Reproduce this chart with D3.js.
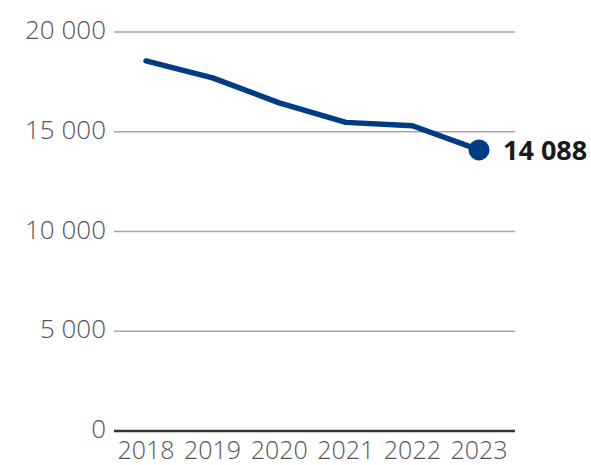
<!DOCTYPE html>
<html>
<head>
<meta charset="utf-8">
<script src="https://cdn.jsdelivr.net/npm/d3@7"></script>
<style>
  html, body { margin: 0; padding: 0; background: #fff; }
  svg { display: block; }
  text { font-family: "Open Sans", sans-serif; }
</style>
</head>
<body>
<svg id="chart" width="591" height="465"></svg>
<script>
// Yearly totals
const years = ["2018", "2019", "2020", "2021", "2022", "2023"];
const values = [18550, 17700, 16450, 15470, 15300, 14088];
const yTicks = [0, 5000, 10000, 15000, 20000];

const width = 591, height = 465;
const margin = { top: 32, right: 76, bottom: 34, left: 114 };

const svg = d3.select("#chart");

const x = d3.scalePoint()
  .domain(years)
  .range([146, 479]);

const y = d3.scaleLinear()
  .domain([0, 20000])
  .range([431, 32]);

// Thousands separated by a space
const fmt = v => d3.format(",")(v).replace(/,/g, " ");

// Gridlines
svg.append("g")
  .selectAll("line")
  .data(yTicks.filter(d => d !== 0))
  .join("line")
  .attr("x1", margin.left)
  .attr("x2", width - margin.right)
  .attr("y1", d => y(d))
  .attr("y2", d => y(d))
  .attr("stroke", "#a6a6a6")
  .attr("stroke-width", 1.5);

// Baseline
svg.append("line")
  .attr("x1", margin.left)
  .attr("x2", width - margin.right)
  .attr("y1", y(0))
  .attr("y2", y(0))
  .attr("stroke", "#333")
  .attr("stroke-width", 2.5);

// Y tick labels
svg.append("g")
  .selectAll("text")
  .data(yTicks)
  .join("text")
  .attr("x", 106)
  .attr("y", d => y(d) - 2)
  .attr("dy", "0.35em")
  .attr("text-anchor", "end")
  .attr("font-size", 26)
  .attr("font-weight", 300)
  .attr("fill", "#555")
  .text(d => fmt(d));

// X tick labels
svg.append("g")
  .selectAll("text")
  .data(years)
  .join("text")
  .attr("x", d => x(d))
  .attr("y", 459)
  .attr("text-anchor", "middle")
  .attr("font-size", 25)
  .attr("font-weight", 300)
  .attr("fill", "#555")
  .text(d => d);

const color = "#003B84";

// Line
const line = d3.line()
  .x((d, i) => x(years[i]))
  .y(d => y(d));

svg.append("path")
  .datum(values)
  .attr("d", line)
  .attr("fill", "none")
  .attr("stroke", color)
  .attr("stroke-width", 5.5)
  .attr("stroke-linejoin", "round")
  .attr("stroke-linecap", "round");

// Last point and its value
const last = values.length - 1;
svg.append("circle")
  .attr("cx", x(years[last]))
  .attr("cy", y(values[last]))
  .attr("r", 10.5)
  .attr("fill", color);

svg.append("text")
  .attr("x", 503)
  .attr("y", y(values[last]) + 1)
  .attr("dy", "0.35em")
  .attr("font-size", 27)
  .attr("font-weight", 700)
  .attr("fill", "#1a1a1a")
  .text(fmt(values[last]));
</script>
</body>
</html>
